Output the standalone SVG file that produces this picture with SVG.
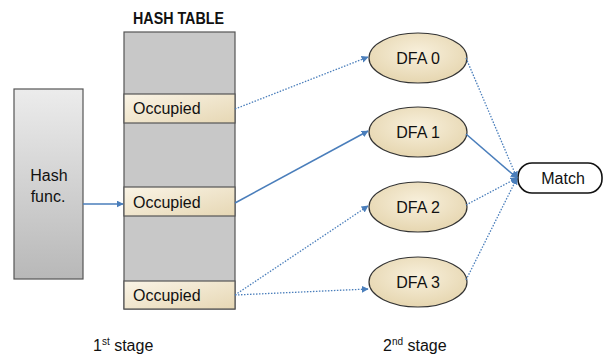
<svg xmlns="http://www.w3.org/2000/svg" width="603" height="356" viewBox="0 0 603 356">
<defs>
<linearGradient id="gHash" x1="0" y1="0" x2="0" y2="1"><stop offset="0" stop-color="#ececec"/><stop offset="1" stop-color="#b8b8b8"/></linearGradient>
<linearGradient id="gOcc" x1="0" y1="0" x2="1" y2="1"><stop offset="0" stop-color="#faf4e6"/><stop offset="1" stop-color="#e6d7b4"/></linearGradient>
<radialGradient id="gDfa" cx="0.5" cy="0.4" r="0.6"><stop offset="0" stop-color="#f8f0dc"/><stop offset="1" stop-color="#e6d6b0"/></radialGradient>
<marker id="ah" viewBox="0 0 10 10" refX="9" refY="5" markerWidth="7" markerHeight="7" orient="auto" markerUnits="userSpaceOnUse"><path d="M0,0 L10,5 L0,10 z" fill="#4a7ebb"/></marker>
</defs>
<style>
text{font-family:"Liberation Sans",Arial,sans-serif;fill:#111}
.lbl{font-size:16px}
.solid{stroke:#4a7ebb;stroke-width:1.6;fill:none}
.dot{stroke:#4a7ebb;stroke-width:1.3;fill:none;stroke-dasharray:1.5 1.5}
.cell{fill:#c8c8c8;stroke:#555;stroke-width:1.2}
.occ{fill:url(#gOcc);stroke:#555;stroke-width:1.2}
.dfa{fill:url(#gDfa);stroke:#333;stroke-width:1.2}
</style>
<rect width="603" height="356" fill="#fff"/>
<g id="hashfunc">
<rect x="14" y="89" width="69" height="190" fill="url(#gHash)" stroke="#555" stroke-width="1.2"/>
<text class="lbl" x="49" y="181" text-anchor="middle">Hash</text>
<text class="lbl" x="48" y="202" text-anchor="middle">func.</text>
</g>
<g id="hashtable">
<text x="133" y="24" font-size="16" font-weight="bold" textLength="91" lengthAdjust="spacingAndGlyphs">HASH TABLE</text>
<rect class="cell" x="124" y="32" width="111" height="277"/>
</g>
<g id="occ1"><rect class="occ" x="124" y="94" width="111" height="29"/><text class="lbl" x="133" y="114">Occupied</text></g>
<g id="occ2"><rect class="occ" x="124" y="187" width="111" height="29"/><text class="lbl" x="133" y="208">Occupied</text></g>
<g id="occ3"><rect class="occ" x="124" y="281" width="111" height="28"/><text class="lbl" x="133" y="301">Occupied</text></g>
<g id="dfa0"><ellipse class="dfa" cx="418" cy="58" rx="49" ry="25"/><text class="lbl" x="418" y="64" text-anchor="middle">DFA 0</text></g>
<g id="dfa1"><ellipse class="dfa" cx="418" cy="132" rx="49" ry="25"/><text class="lbl" x="418" y="138" text-anchor="middle">DFA 1</text></g>
<g id="dfa2"><ellipse class="dfa" cx="418" cy="207" rx="49" ry="25"/><text class="lbl" x="418" y="213" text-anchor="middle">DFA 2</text></g>
<g id="dfa3"><ellipse class="dfa" cx="418" cy="282" rx="49" ry="25"/><text class="lbl" x="418" y="288" text-anchor="middle">DFA 3</text></g>
<g id="match"><rect x="518" y="163" width="84" height="30" rx="14" fill="#fff" stroke="#111" stroke-width="1.6"/><text class="lbl" x="563" y="184" text-anchor="middle">Match</text></g>
<g id="connectors">
<line class="solid" x1="83" y1="204" x2="123" y2="204" marker-end="url(#ah)"/>
<line class="dot" x1="235" y1="109" x2="368" y2="57" marker-end="url(#ah)"/>
<line class="solid" x1="235" y1="203" x2="368" y2="131" marker-end="url(#ah)"/>
<line class="dot" x1="235" y1="295" x2="368" y2="206" marker-end="url(#ah)"/>
<line class="dot" x1="235" y1="295" x2="368" y2="289" marker-end="url(#ah)"/>
<line class="dot" x1="466" y1="58" x2="517" y2="178" marker-end="url(#ah)"/>
<line class="solid" x1="466" y1="134" x2="517" y2="178" marker-end="url(#ah)"/>
<line class="dot" x1="466" y1="205" x2="517" y2="178" marker-end="url(#ah)"/>
<line class="dot" x1="466" y1="280" x2="517" y2="178" marker-end="url(#ah)"/>
</g>
<g id="stages">
<text class="lbl" x="93" y="351">1<tspan font-size="10" dy="-6">st</tspan><tspan dy="6"> stage</tspan></text>
<text class="lbl" x="383" y="351">2<tspan font-size="10" dy="-6">nd</tspan><tspan dy="6"> stage</tspan></text>
</g>
</svg>
